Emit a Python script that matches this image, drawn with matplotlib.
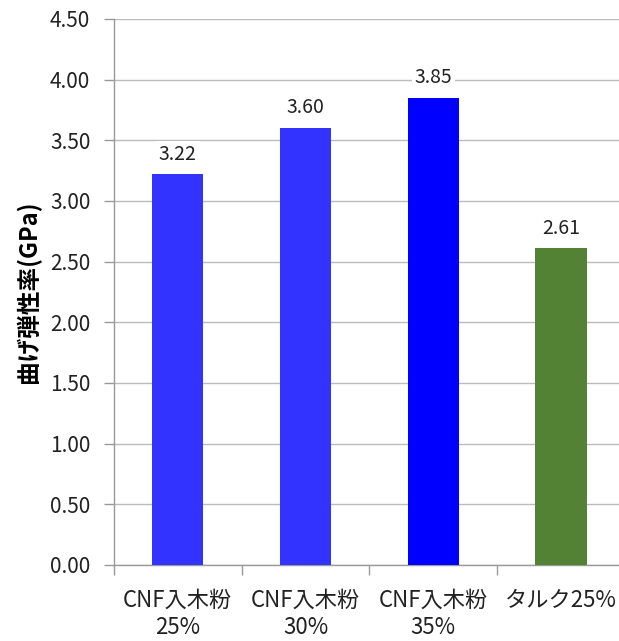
import matplotlib
matplotlib.use("Agg")
import matplotlib.pyplot as plt
import numpy as np

plt.rcParams['font.family'] = ['Noto Sans CJK JP', 'DejaVu Sans']

categories = ["CNF入木粉\n25%", "CNF入木粉\n30%", "CNF入木粉\n35%", "タルク25%"]
values = [3.22, 3.60, 3.85, 2.61]
colors = ["#3333FF", "#3333FF", "#0000FF", "#548235"]
y_ticks = [0.0, 0.5, 1.0, 1.5, 2.0, 2.5, 3.0, 3.5, 4.0, 4.5]
y_label = "曲げ弾性率(GPa)"

fig = plt.figure(figsize=(6.19, 6.41), dpi=100)
ax = fig.add_axes([0.184, 0.1186, 0.8255, 0.8518])

x = np.arange(len(categories))
bars = ax.bar(x, values, width=0.4, color=colors, zorder=3)

ax.set_xlim(-0.5, len(categories) - 0.5)
ax.set_ylim(0, 4.5)
ax.set_yticks(y_ticks)
ax.set_yticklabels([f"{v:.2f}" for v in y_ticks], fontsize=15, color="#222222")
ax.yaxis.grid(True, color="#BBBBBB", linewidth=1.0, zorder=0)
ax.set_axisbelow(True)

# category separators on the x axis
ax.set_xticks(np.arange(-0.5, len(categories), 1.0))
ax.set_xticklabels([])
ax.set_xticks(x, minor=True)
ax.set_xticklabels(categories, minor=True, fontsize=16, color="#222222", linespacing=1.25)
ax.tick_params(axis="x", which="minor", length=0, pad=17)
ax.tick_params(axis="x", which="major", length=7, color="#999999", width=1)
ax.tick_params(axis="y", length=7, color="#999999", width=1, pad=10)

for s in ["top", "right"]:
    ax.spines[s].set_visible(False)
for s in ["left", "bottom"]:
    ax.spines[s].set_color("#999999")
    ax.spines[s].set_linewidth(1.0)

ax.set_ylabel(y_label, fontsize=17, fontweight="bold", labelpad=6)

for b, v in zip(bars, values):
    ax.annotate(f"{v:.2f}", (b.get_x() + b.get_width() / 2, v),
                xytext=(0, 7), textcoords="offset points",
                ha="center", va="bottom", fontsize=14, color="#222222",
                bbox=dict(boxstyle="square,pad=0.15", fc="white", ec="none"),
                zorder=4)

fig.savefig("out.png", dpi=100)
